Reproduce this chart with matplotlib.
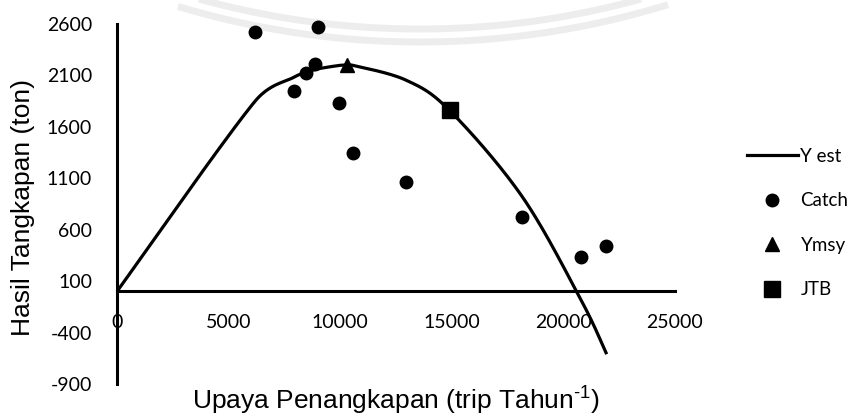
import numpy as np
import matplotlib
matplotlib.use("Agg")
import matplotlib.pyplot as plt

plt.rcParams['font.family'] = ['Lato', 'DejaVu Sans']
plt.rcParams['axes.unicode_minus'] = False
plt.rcParams['mathtext.fontset'] = 'custom'
plt.rcParams['mathtext.rm'] = 'Liberation Sans'
plt.rcParams['mathtext.it'] = 'Liberation Sans'

# observed effort (trip/tahun) and catch (ton)
effort = [6180, 9000, 8870, 8470, 7930, 9950, 10570, 12950, 18150, 20790, 21910]
catch = [2520, 2570, 2210, 2120, 1950, 1830, 1345, 1065, 725, 335, 440]

# estimated yield at sorted effort values
effort_est = [0, 6180, 7930, 8470, 8870, 9000, 9950, 10300, 10570, 12950,
              14900, 18150, 20790, 21910]
y_est = [0, 1848, 2083, 2130, 2157, 2165, 2197, 2200, 2198, 2054,
         1760, 923, -83, -596]

e_msy, y_msy = [10300], [2200]
e_jtb, y_jtb = [14900], [1760]

x_ticks = [0, 5000, 10000, 15000, 20000, 25000]
y_ticks = [-900, -400, 100, 600, 1100, 1600, 2100, 2600]


def smooth(xs, ys, kx, ky, n=40):
    # smoothed line: cubic bezier through every point (catmull-rom arms,
    # capped at half the segment so short segments don't overshoot)
    p = np.column_stack([np.asarray(xs) * kx, np.asarray(ys) * ky]).astype(float)
    m = len(p)
    out = [p[0]]
    t = np.linspace(0, 1, n)[1:, None]

    def cap(v, d):
        L = np.linalg.norm(v)
        return v if L <= d / 2 else v * (d / 2) / L

    for i in range(m - 1):
        d = np.linalg.norm(p[i + 1] - p[i])
        a = (p[i + 1] - p[max(i - 1, 0)]) / 6
        b = (p[min(i + 2, m - 1)] - p[i]) / 6
        c1 = p[i] + cap(a, d)
        c2 = p[i + 1] - cap(b, d)
        seg = ((1 - t) ** 3) * p[i] + 3 * ((1 - t) ** 2) * t * c1 \
            + 3 * (1 - t) * t ** 2 * c2 + t ** 3 * p[i + 1]
        out.extend(seg)
    out = np.array(out)
    return out[:, 0] / kx, out[:, 1] / ky


W, H = 860, 416
fig = plt.figure(figsize=(W / 100, H / 100), dpi=100)

# faint watermark arcs behind the chart
bg = fig.add_axes([0, 0, 1, 1], zorder=0)
bg.set_xlim(0, W)
bg.set_ylim(H, 0)
bg.axis('off')
for r in (842, 829):
    xx = np.linspace(178, 668, 200)
    yy = -800 + np.sqrt(r ** 2 - (xx - 420) ** 2)
    bg.plot(xx, yy, color='#ededed', lw=5, solid_capstyle='butt')

ax = fig.add_axes([117 / W, 32 / H, 558 / W, 360 / H], zorder=1)
ax.patch.set_alpha(0)

sx, sy = smooth(effort_est, y_est, 558 / 25000, 360 / 3500)
ax.plot(sx, sy, color='black', lw=2.3, label='Y est', zorder=3)
ax.plot(effort, catch, 'o', color='black', ms=9, label='Catch', clip_on=False, zorder=4)
ax.plot(e_msy, y_msy, '^', color='black', ms=10.5, label='Ymsy', clip_on=False, zorder=4)
ax.plot(e_jtb, y_jtb, 's', color='black', ms=11, label='JTB', clip_on=False, zorder=4)

ax.set_xlim(0, 25000)
ax.set_ylim(-900, 2600)
ax.set_xticks(x_ticks)
ax.set_yticks(y_ticks)
ax.spines['top'].set_visible(False)
ax.spines['right'].set_visible(False)
ax.spines['bottom'].set_position(('data', 0))
for s in ('left', 'bottom'):
    ax.spines[s].set_linewidth(2.2)
ax.tick_params(axis='x', length=0, pad=16.5, labelsize=14)
ax.tick_params(axis='y', length=0, pad=18, labelsize=14)

fig.text(23 / W, 1 - 208 / H, 'Hasil Tangkapan (ton)', rotation=90,
         ha='center', va='center', fontsize=19, family='Liberation Sans')
fig.text(396 / W, 1 - 410 / H, r'Upaya Penangkapan (trip Tahun$^{\text{-1}}$)',
         ha='center', va='baseline', fontsize=19, family='Liberation Sans')

ax.legend(loc='center left', bbox_to_anchor=(747 / W, 1 - 223 / H),
          bbox_transform=fig.transFigure, frameon=False, fontsize=13.5,
          handlelength=2.7, handletextpad=0.15, labelspacing=1.47,
          borderpad=0, borderaxespad=0)

fig.savefig('out.png', dpi=100)
